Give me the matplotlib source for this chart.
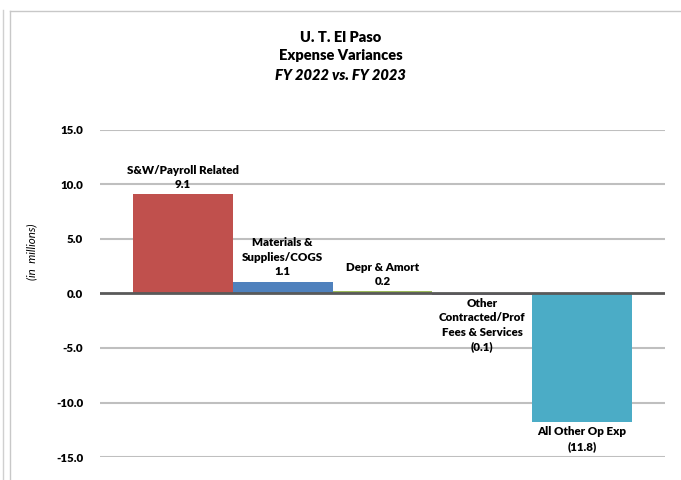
import matplotlib.pyplot as plt
from matplotlib.lines import Line2D

# expense variances, in millions
labels = ["S&W/Payroll Related", "Materials &\nSupplies/COGS", "Depr & Amort",
          "Other\nContracted/Prof\nFees & Services", "All Other Op Exp"]
values = [9.1, 1.1, 0.2, -0.1, -11.8]
value_text = ["9.1", "1.1", "0.2", "(0.1)", "(11.8)"]
colors = ["#C0504D", "#4F81BD", "#9BBB59", "#8064A2", "#4BACC6"]
yticks = [15.0, 10.0, 5.0, 0.0, -5.0, -10.0, -15.0]

plt.rcParams['font.family'] = ['Lato', 'DejaVu Sans']

fig = plt.figure(figsize=(6.81, 4.8), dpi=100)
ax = fig.add_axes([100/681, 1 - 457/480, 565/681, (457 - 130)/480])

x = range(len(values))
ax.bar(x, values, width=1.0, color=colors, zorder=2)

ax.set_ylim(-15, 15)
ax.set_xlim(-0.5 - 0.33, len(values) - 0.5 + 0.33)
ax.set_yticks(yticks)
ax.set_yticklabels([f"{t:.1f}" for t in yticks], fontsize=8.3, fontweight='heavy')
ax.tick_params(axis='y', length=0, pad=12)
ax.set_xticks([])
for s in ax.spines.values():
    s.set_visible(False)
for t in yticks:
    if t != 0:
        ax.axhline(t, color="#BFBFBF", lw=1.5, zorder=1)
ax.axhline(0, color="#595959", lw=2, zorder=3)

# data labels
for i, v in enumerate(values):
    txt = labels[i] + "\n" + value_text[i]
    kw = dict(textcoords='offset points', ha='center', fontsize=8.3,
              fontweight='heavy', linespacing=1.4)
    if v >= 0:
        ax.annotate(txt, (i, v), xytext=(0, 3), va='bottom', **kw)
    elif v > -1:
        ax.annotate(txt, (i, 0), xytext=(0, -3), va='top', **kw)
    else:
        ax.annotate(txt, (i, v), xytext=(0, -3), va='top', **kw)

fig.text(32/681, 1 - 252/480, "(in  millions)", rotation=90, style='italic',
         fontsize=8.3, ha='center', va='center')

fig.text(0.5, 1 - 37/480, "U. T. El Paso", ha='center', va='center',
         fontsize=10.5, fontweight='heavy')
fig.text(0.5, 1 - 56/480, "Expense Variances", ha='center', va='center',
         fontsize=10.5, fontweight='heavy')
fig.text(0.5, 1 - 76/480, "FY 2022 vs. FY 2023", ha='center', va='center',
         fontsize=10.5, fontweight='heavy', style='italic')

# chart frame
fig.add_artist(Line2D([2.5/681, 2.5/681], [0, 1 - 10/480], color="#D0D0D0", lw=1))
fig.add_artist(Line2D([9.5/681, 9.5/681], [0, 1 - 11/480], color="#C8C8C8", lw=1))
fig.add_artist(Line2D([9.5/681, 1], [1 - 11/480, 1 - 11/480], color="#C8C8C8", lw=1))

fig.savefig("out.png", dpi=100)
